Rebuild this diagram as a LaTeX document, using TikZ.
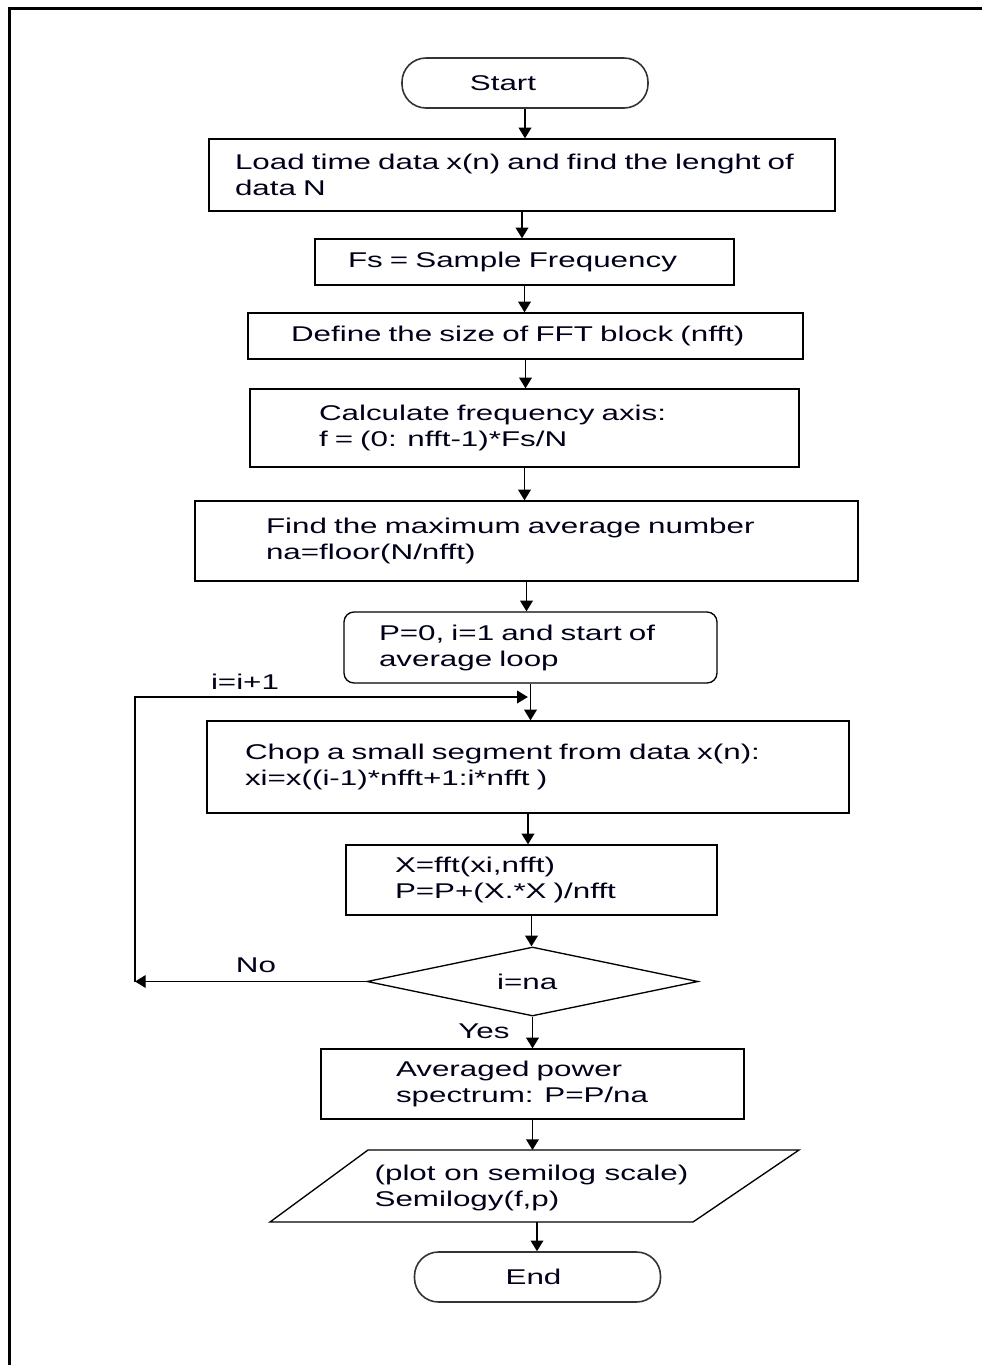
\documentclass[tikz,border=0pt]{standalone}
\usepackage{fontspec}
\setmainfont[FakeStretch=1.47]{Liberation Sans}
\usetikzlibrary{shapes.geometric,arrows.meta}
\begin{document}
\begin{tikzpicture}[x=0.75pt,y=-0.75pt,
  every node/.style={font=\fontsize{16pt}{19.5pt}\selectfont, text=black!90!blue},
  box/.style={draw=black, line width=1pt, align=left},
  term/.style={draw=black!80, line width=1.2pt, rounded corners=18pt, minimum width=184.5pt, minimum height=37.5pt},
  arr/.style={line width=1pt, -{Triangle[length=8pt,width=9.5pt]}},
  lbl/.style={inner sep=0pt}]
\useasboundingbox (0,0) rectangle (982,1365);
% frame
\draw[line width=2.25pt] (9.5,1365) -- (9.5,8.5) -- (982,8.5);
% nodes
\node[term] (start) at (525,83) {Start\hspace*{33pt}};
\node[box, text width=430.5pt, inner xsep=19.5pt, minimum height=54pt] (load) at (522,175)
  {\mbox{Load time data x(n) and find the lenght of}\\data N};
\node[box, text width=264.75pt, inner xsep=24.75pt, minimum height=34.5pt] (fs) at (524.5,262)
  {\mbox{Fs = Sample Frequency}};
\node[box, text width=351.75pt, inner xsep=32.25pt, minimum height=34.5pt] (size) at (525.5,336)
  {\mbox{Define the size of FFT block (nfft)}};
\node[box, text width=308.25pt, inner xsep=51.75pt, minimum height=58.5pt] (axis) at (524.5,428)
  {\mbox{Calculate frequency axis:}\\\mbox{f = (0: nfft-1)*Fs/N}};
\node[box, text width=390.75pt, inner xsep=53.25pt, minimum height=60pt] (maxav) at (526.5,541)
  {\mbox{Find the maximum average number}\\\mbox{na=floor(N/nfft)}};
\node[box, rounded corners=7.5pt, text width=227.25pt, inner xsep=26.25pt, minimum height=53.25pt] (init) at (530.5,647.5)
  {\mbox{P=0, i=1 and start of}\\\mbox{average loop}};
\node[box, text width=424.5pt, inner xsep=28.5pt, minimum height=69pt] (chop) at (528,767)
  {\mbox{Chop a small segment from data x(n):}\\\mbox{xi=x((i-1)*nfft+1:i*nfft )}};
\node[box, text width=204.75pt, inner xsep=36.75pt, minimum height=52.5pt] (fft) at (531.5,880)
  {\mbox{X=fft(xi,nfft)}\\\mbox{P=P+(X.*X )/nfft}};
\node[draw=black, line width=1pt, diamond, aspect=4.8, inner sep=0pt, minimum width=248.25pt, minimum height=51.75pt] (test) at (532.5,981.5) {i=na\hspace*{8pt}};
\node[box, text width=204.75pt, inner xsep=56.25pt, minimum height=52.5pt] (avg) at (532.5,1084)
  {\mbox{Averaged power}\\\mbox{spectrum: P=P/na}};
\node[align=left, inner sep=0pt] (plot) at (531.5,1188)
  {\mbox{(plot on semilog scale)}\\\mbox{Semilogy(f,p)}};
\draw[line width=1pt] (368,1150) -- (799,1150) -- (693,1222) -- (270,1222) -- cycle;
\coordinate (plottop) at (535,1150);
\coordinate (plotbot) at (537,1222);
\node[term] (end) at (537.5,1277) {End\hspace*{6pt}};
% labels
\node[lbl] (inc) at (245,682) {i=i+1};
\node[lbl] (no) at (256,965) {No};
\node[lbl] (yes) at (484,1031) {Yes};
% connectors
\draw[arr] (start.south) -- (start.south |- load.north);
\draw[arr] (load.south) -- (load.south |- fs.north);
\draw[arr] (fs.south) -- (fs.south |- size.north);
\draw[arr] (size.south) -- (size.south |- axis.north);
\draw[arr] (axis.south) -- (axis.south |- maxav.north);
\draw[arr] (maxav.south) -- (maxav.south |- init.north);
\draw[arr] (init.south) -- (init.south |- chop.north);
\draw[arr] (chop.south) -- (chop.south |- fft.north);
\draw[arr] (fft.south) -- (fft.south |- test.north);
\draw[arr] (test.south) -- (test.south |- avg.north);
\draw[arr] (avg.south) -- (avg.south |- plottop);
\draw[arr] (plotbot) -- (plotbot |- end.north);
% loop back
\coordinate (lb) at (135,981.5);
\coordinate (lt) at (135,697);
\draw[arr] (test.west) -- (lb);
\draw[arr] (lb) -- (lt) -- ([xshift=-2pt]lt -| init.south);
\end{tikzpicture}
\end{document}
